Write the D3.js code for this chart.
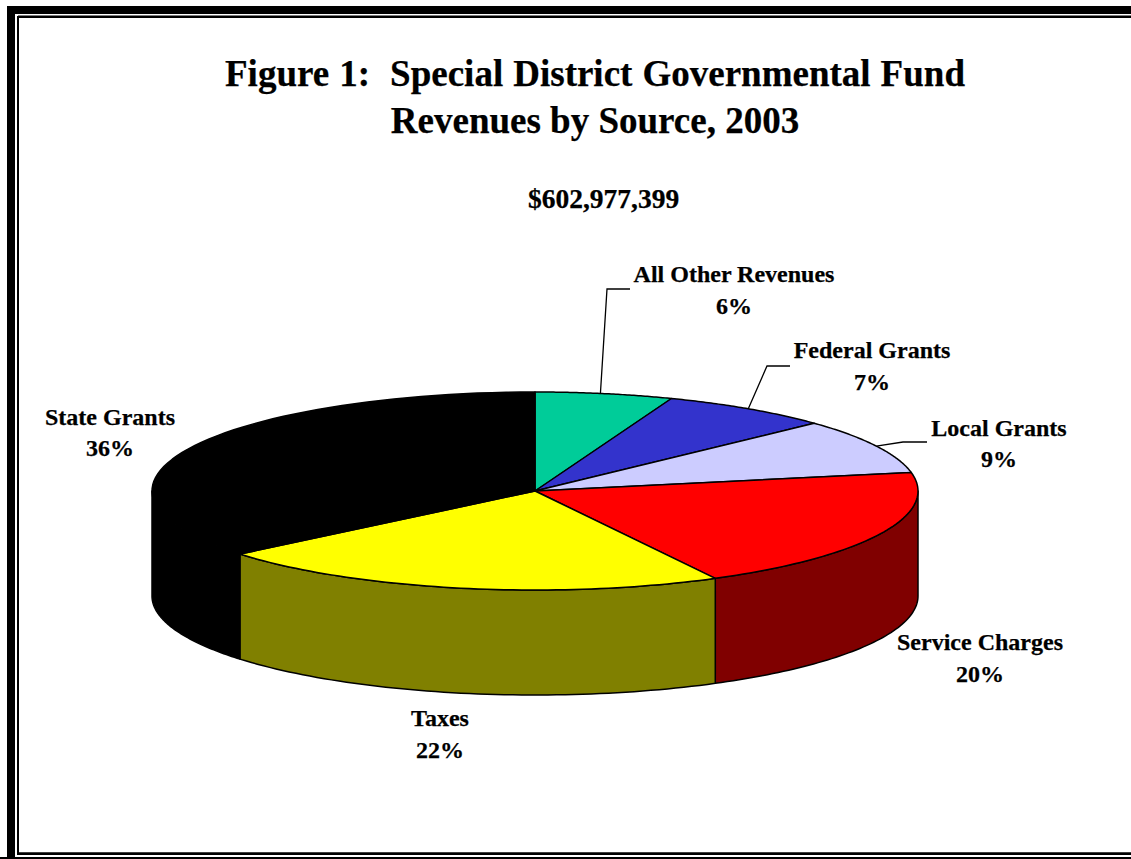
<!DOCTYPE html>
<html><head><meta charset="utf-8">
<script src="https://cdn.jsdelivr.net/npm/d3@7/dist/d3.min.js"></script>
<style>html,body{margin:0;padding:0;background:#fff;overflow:hidden}svg{display:block}
text{font-family:"Liberation Serif","Times New Roman",serif;font-weight:bold;fill:#000;stroke:#000;stroke-width:.25;text-anchor:middle;white-space:pre}</style>
</head><body><svg id="c" width="1131" height="859"></svg>
<script>
const categories=["All Other Revenues","Federal Grants","Local Grants","Service Charges","Taxes","State Grants"];
const values=[5.8,7.2,9.0,20.2,21.8,36.0];
const percentLabels=["6%","7%","9%","20%","22%","36%"];
const topColors=["#00CC99","#3333CC","#CCCCFF","#FF0000","#FFFF00","#000000"];
const sideColors=["#006650","#1a1a66","#666680","#800000","#808000","#000000"];
const titleLines=["Figure 1:  Special District Governmental Fund","Revenues by Source, 2003"];
const subtitle="$602,977,399";

const svg=d3.select("#c");
const cx=535,cy=491,rx=383,ry=99,depth=105;
const sx=d3.scaleLinear().domain([-1,1]).range([cx-rx,cx+rx]);
const sy=d3.scaleLinear().domain([-1,1]).range([cy-ry,cy+ry]);
const px=a=>sx(Math.sin(a)), py=a=>sy(-Math.cos(a));
const arcs=d3.pie().sort(null).value(d=>d)(values);

// frame
const line=(x1,y1,x2,y2,w)=>svg.append("line").attr("x1",x1).attr("y1",y1).attr("x2",x2).attr("y2",y2).attr("stroke","#000").attr("stroke-width",w);
svg.append("rect").attr("x",7).attr("y",6).attr("width",1140).attr("height",8);
svg.append("rect").attr("x",7).attr("y",6).attr("width",8).attr("height",860);
line(18,16.7,1131,16.7,2.6);
line(18,16,18,855,2);
line(18,853.7,1131,853.7,2.7);
line(0,858,1131,858,2);

// side wall: only the front half (PI/2..3PI/2) is visible
const frontStart=Math.PI/2, frontEnd=3*Math.PI/2;
const pts=(a0,a1,dy)=>d3.range(0,61).map(i=>{const a=a0+(a1-a0)*i/60;return [px(a),py(a)+dy];});
const lineGen=d3.line();
arcs.forEach((d,i)=>{
  const a0=Math.max(d.startAngle,frontStart),a1=Math.min(d.endAngle,frontEnd);
  if(a1<=a0)return;
  const p=pts(a0,a1,0).concat(pts(a1,a0,depth));
  svg.append("path").attr("d",lineGen(p)+"Z").attr("fill",sideColors[i]).attr("stroke","#000").attr("stroke-width",1.5).attr("stroke-linejoin","round");
});
// top slices
arcs.forEach((d,i)=>{
  const p=[[cx,cy]].concat(pts(d.startAngle,d.endAngle,0));
  svg.append("path").attr("d",lineGen(p)+"Z").attr("fill",topColors[i]).attr("stroke","#000").attr("stroke-width",1.5).attr("stroke-linejoin","round");
});

// text
svg.selectAll(".t").data(titleLines).join("text").attr("x",595).attr("y",(d,i)=>[86,133][i]).attr("font-size",37).attr("word-spacing",(d,i)=>i?0:0.8).text(d=>d);
svg.append("text").attr("x",603.5).attr("y",208).attr("font-size",27.5).text(subtitle);
const labelX=[734,872,999,980,440,110];
const labelY=[282,358,436,650,726,425];
const pctY=[314,390,467,682,758,456];
categories.forEach((c,i)=>{
  svg.append("text").attr("x",labelX[i]).attr("y",labelY[i]).attr("font-size",24).text(c);
  svg.append("text").attr("x",labelX[i]).attr("y",pctY[i]).attr("font-size",24).text(percentLabels[i]);
});
// leaders from slice mid-angle on the rim
const elbows=[[607,289,630],[767,366,790],[903,442,927]];
elbows.forEach((e,i)=>{
  const m=(arcs[i].startAngle+arcs[i].endAngle)/2;
  svg.append("path").attr("d",lineGen([[px(m)-(i==0?4:0),py(m)],[e[0],e[1]],[e[2],e[1]]])).attr("fill","none").attr("stroke","#000").attr("stroke-width",1.3);
});
</script></body></html>
